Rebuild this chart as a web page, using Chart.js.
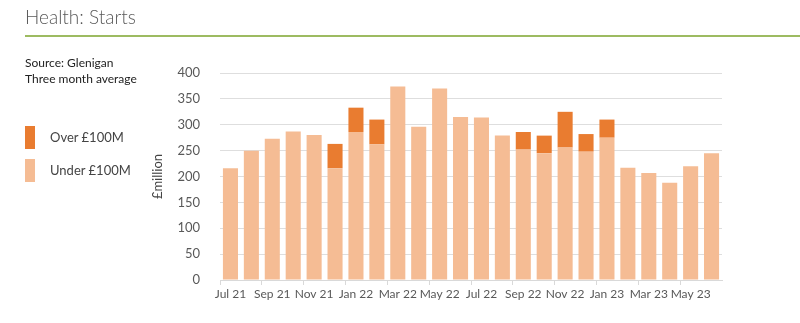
<!DOCTYPE html>
<html>
<head>
<meta charset="utf-8">
<script src="https://cdn.jsdelivr.net/npm/chart.js@4"></script>
<style>
    body { margin: 0; background: #fff; font-family: Lato, "Open Sans", sans-serif; }
    #wrap { position: relative; width: 800px; height: 323px; overflow: hidden; }
    #title { position: absolute; left: 25px; top: 5px; font-size: 19px; color: #595959; font-weight: 300; }
    #rule { position: absolute; left: 25px; top: 35px; width: 775px; height: 2px; background: #9dbb61; }
    #source { position: absolute; left: 25px; top: 55px; font-size: 12px; line-height: 16px; color: #222; }
    .key { position: absolute; left: 25px; width: 10px; height: 23px; }
    .keyText { position: absolute; left: 50px; font-size: 13px; color: #444; }
    #chartBox { position: absolute; left: 0; top: 0; width: 800px; height: 323px; }
</style>
</head>
<body>
<div id="wrap">
    <div id="chartBox"><canvas id="startsChart"></canvas></div>
    <div id="title">Health: Starts</div>
    <div id="rule"></div>
    <div id="source">Source: Glenigan<br>Three month average</div>
    <div class="key" style="top:126px; background:#e97c30;"></div>
    <div class="keyText" style="top:129px;">Over £100M</div>
    <div class="key" style="top:159px; background:#f5bc94;"></div>
    <div class="keyText" style="top:162px;">Under £100M</div>
</div>
<script>
// Monthly categories, Jul 21 to Jun 23
const months = ['Jul 21', 'Aug 21', 'Sep 21', 'Oct 21', 'Nov 21', 'Dec 21',
    'Jan 22', 'Feb 22', 'Mar 22', 'Apr 22', 'May 22', 'Jun 22',
    'Jul 22', 'Aug 22', 'Sep 22', 'Oct 22', 'Nov 22', 'Dec 22',
    'Jan 23', 'Feb 23', 'Mar 23', 'Apr 23', 'May 23', 'Jun 23'];

// £million, three month average
const underValues = [216, 250, 273, 287, 280, 216, 286, 262, 374, 296, 370, 315,
    314, 279, 252, 245, 256, 248, 275, 217, 207, 188, 220, 245];
const overValues = [0, 0, 0, 0, 0, 47, 47, 48, 0, 0, 0, 0,
    0, 0, 34, 34, 69, 34, 35, 0, 0, 0, 0, 0];

const yTicks = [0, 50, 100, 150, 200, 250, 300, 350, 400];

const tickFont = { family: 'Lato, "Open Sans", sans-serif', size: 13 };

let startsChart = new Chart(document.getElementById('startsChart').getContext('2d'), {
    type: 'bar',
    data: {
        labels: months,
        datasets: [{
            label: 'Under £100M',
            data: underValues,
            backgroundColor: '#f5bc94',
            barPercentage: 0.72,
            categoryPercentage: 1
        }, {
            label: 'Over £100M',
            data: overValues,
            backgroundColor: '#e97c30',
            barPercentage: 0.72,
            categoryPercentage: 1
        }]
    },
    options: {
        responsive: true,
        maintainAspectRatio: false,
        animation: false,
        layout: { padding: { left: 150, top: 73, right: 78, bottom: 12 } },
        plugins: {
            legend: { display: false },
            tooltip: { enabled: false }
        },
        scales: {
            x: {
                stacked: true,
                grid: {
                    drawOnChartArea: false,
                    tickLength: 5,
                    color: (ctx) => (ctx.index % 2 === 0 ? '#d9d9d9' : 'rgba(0,0,0,0)')
                },
                border: { color: '#d9d9d9' },
                ticks: {
                    autoSkip: false,
                    maxRotation: 0,
                    color: '#595959',
                    font: { family: tickFont.family, size: 12 },
                    padding: 2,
                    callback: (value, index) => (index % 2 === 0 ? months[index] : '')
                },
                afterFit: (scale) => { scale.height = 31; }
            },
            y: {
                stacked: true,
                min: 0,
                max: 400,
                afterBuildTicks: (scale) => { scale.ticks = yTicks.map(v => ({ value: v })); },
                grid: { color: '#dedede', drawTicks: false },
                border: { display: false },
                ticks: {
                    color: '#595959',
                    font: tickFont,
                    padding: 20
                },
                title: {
                    display: true,
                    text: '£million',
                    color: '#444',
                    font: tickFont,
                    padding: { top: 0, bottom: 0 }
                },
                afterFit: (scale) => { scale.width = 70; }
            }
        }
    }
});
</script>
</body>
</html>
